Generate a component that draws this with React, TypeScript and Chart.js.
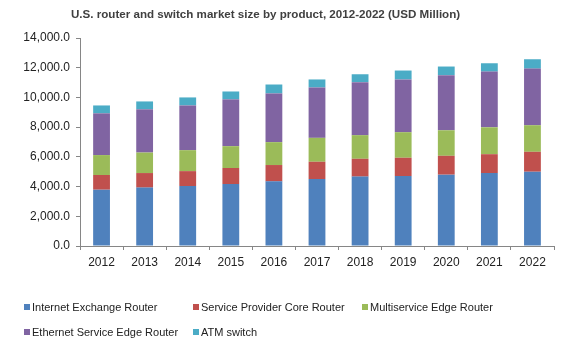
import React, { useEffect, useRef } from "react";
import { Chart, registerables } from "chart.js";

Chart.register(...registerables);

const years = ["2012", "2013", "2014", "2015", "2016", "2017", "2018", "2019", "2020", "2021", "2022"];
const internetExchangeRouter = [3790, 3930, 4040, 4170, 4350, 4510, 4670, 4710, 4800, 4910, 5000];
const serviceProviderCoreRouter = [990, 980, 1000, 1080, 1100, 1160, 1200, 1230, 1270, 1270, 1340];
const multiserviceEdgeRouter = [1340, 1380, 1410, 1470, 1540, 1610, 1590, 1720, 1720, 1810, 1790];
const ethernetServiceEdgeRouter = [2810, 2910, 3010, 3150, 3280, 3390, 3570, 3550, 3710, 3750, 3810];
const atmSwitch = [530, 530, 540, 530, 600, 540, 530, 600, 580, 560, 630];
const yTickValues = [0, 2000, 4000, 6000, 8000, 10000, 12000, 14000];

const seriesNames = [
  "Internet Exchange Router",
  "Service Provider Core Router",
  "Multiservice Edge Router",
  "Ethernet Service Edge Router",
  "ATM switch",
];
const colors = ["#4F81BD", "#C0504D", "#9BBB59", "#8064A2", "#4BACC6"];

const title = "U.S. router and switch market size by product, 2012-2022 (USD Million)";

export default function App() {
  const ref = useRef<HTMLCanvasElement | null>(null);

  useEffect(() => {
    if (!ref.current) return;
    const seriesData = [
      internetExchangeRouter,
      serviceProviderCoreRouter,
      multiserviceEdgeRouter,
      ethernetServiceEdgeRouter,
      atmSwitch,
    ];
    const chart = new Chart(ref.current, {
      type: "bar",
      data: {
        labels: years,
        datasets: seriesData.map((d, i) => ({
          label: seriesNames[i],
          data: d,
          backgroundColor: colors[i],
          borderWidth: 0,
          barPercentage: 0.39,
          categoryPercentage: 1,
        })),
      },
      options: {
        responsive: false,
        animation: false,
        layout: { padding: { top: 38, left: 0, right: 19, bottom: 76 } },
        plugins: {
          legend: { display: false },
          title: { display: false },
          tooltip: { enabled: false },
        },
        scales: {
          x: {
            stacked: true,
            afterFit: (s: any) => {
              s.height = 20;
            },
            grid: {
              display: true,
              drawOnChartArea: false,
              drawTicks: true,
              tickLength: 4,
              color: "#868686",
              offset: true,
            },
            border: { color: "#868686" },
            ticks: {
              color: "#222222",
              font: { family: "Arial, 'Liberation Sans'", size: 12 },
              padding: 5,
              maxRotation: 0,
            },
          },
          y: {
            stacked: true,
            min: 0,
            max: 14000,
            afterFit: (s: any) => {
              s.width = 80;
            },
            afterBuildTicks: (s: any) => {
              s.ticks = yTickValues.map((v) => ({ value: v }));
            },
            grid: {
              display: true,
              drawOnChartArea: false,
              drawTicks: true,
              tickLength: 4,
              color: "#868686",
            },
            border: { color: "#868686" },
            ticks: {
              color: "#222222",
              font: { family: "Arial, 'Liberation Sans'", size: 12 },
              padding: 6,
              callback: (v: any) =>
                Number(v).toLocaleString("en-US", { minimumFractionDigits: 1, maximumFractionDigits: 1 }),
            },
          },
        },
      },
    });
    return () => chart.destroy();
  }, []);

  const legendPos = [
    { x: 24, y: 307 },
    { x: 193, y: 307 },
    { x: 362, y: 307 },
    { x: 24, y: 332 },
    { x: 193, y: 332 },
  ];

  return (
    <div
      style={{
        position: "fixed",
        left: 0,
        top: 0,
        width: 573,
        height: 342,
        background: "#ffffff",
        fontFamily: "Arial, 'Liberation Sans', sans-serif",
      }}
    >
      <canvas ref={ref} width={573} height={342} style={{ position: "absolute", left: 0, top: 0 }} />
      <div
        style={{
          position: "absolute",
          left: 71,
          top: 5,
          fontSize: 11.6,
          fontWeight: "bold",
          color: "#404040",
          lineHeight: "17px",
          whiteSpace: "nowrap",
        }}
      >
        {title}
      </div>
      {seriesNames.map((n, i) => (
        <div
          key={n}
          style={{
            position: "absolute",
            left: legendPos[i].x,
            top: legendPos[i].y - 8,
            height: 16,
            display: "flex",
            alignItems: "center",
            fontSize: 11,
            color: "#222222",
            whiteSpace: "nowrap",
          }}
        >
          <span
            style={{
              display: "inline-block",
              width: 6,
              height: 6,
              background: colors[i],
              marginRight: 2,
            }}
          />
          <span>{n}</span>
        </div>
      ))}
    </div>
  );
}
